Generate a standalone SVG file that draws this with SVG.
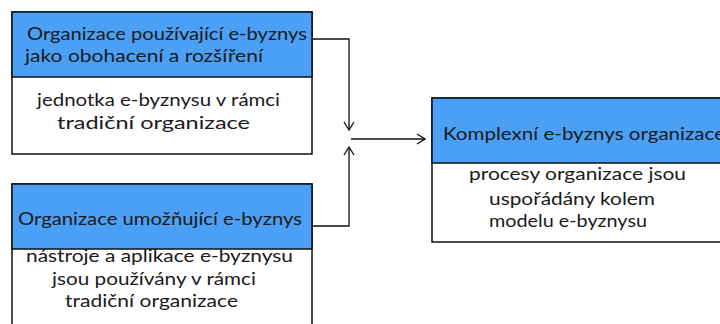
<svg xmlns="http://www.w3.org/2000/svg" width="720" height="324" viewBox="0 0 720 324">
<style>
.hdr{fill:#4b9ff4;stroke:#111;stroke-width:1.5}
.body{fill:#fff;stroke:#111;stroke-width:1.5}
text{font-family:Lato,"Open Sans","Liberation Sans",sans-serif;font-size:17px;fill:#1a1a1a}
.c{fill:none;stroke:#111;stroke-width:1.3}
</style>
<defs>
<marker id="ah" viewBox="0 0 10 12" refX="9" refY="6" markerWidth="10" markerHeight="12" markerUnits="userSpaceOnUse" orient="auto">
<path d="M1,1 L9,6 L1,11" fill="none" stroke="#111" stroke-width="1.3"/>
</marker>
</defs>
<rect width="720" height="324" fill="#fff"/>
<g id="node1">
<rect class="body" x="12" y="12" width="300" height="142"/>
<rect class="hdr" x="12" y="12" width="300" height="65"/>
<text x="27" y="40" textLength="280" lengthAdjust="spacingAndGlyphs">Organizace používající e-byznys</text>
<text x="25" y="62" textLength="238" lengthAdjust="spacingAndGlyphs">jako obohacení a rozšíření</text>
<text x="37" y="106" textLength="243" lengthAdjust="spacingAndGlyphs">jednotka e-byznysu v rámci</text>
<text x="57" y="129" textLength="193" lengthAdjust="spacingAndGlyphs">tradiční organizace</text>
</g>
<g id="node2">
<rect class="body" x="12" y="184" width="300" height="150"/>
<rect class="hdr" x="12" y="184" width="300" height="65"/>
<text x="18" y="225" textLength="284" lengthAdjust="spacingAndGlyphs">Organizace umožňující e-byznys</text>
<text x="26" y="262" textLength="267" lengthAdjust="spacingAndGlyphs">nástroje a aplikace e-byznysu</text>
<text x="52" y="285" textLength="204" lengthAdjust="spacingAndGlyphs">jsou používány v rámci</text>
<text x="65" y="307" textLength="173" lengthAdjust="spacingAndGlyphs">tradiční organizace</text>
</g>
<g id="node3">
<rect class="body" x="432" y="98" width="300" height="144"/>
<rect class="hdr" x="432" y="98" width="300" height="65"/>
<text x="443" y="140" textLength="282" lengthAdjust="spacingAndGlyphs">Komplexní e-byznys organizace</text>
<text x="469" y="180" textLength="217" lengthAdjust="spacingAndGlyphs">procesy organizace jsou</text>
<text x="489" y="205" textLength="166" lengthAdjust="spacingAndGlyphs">uspořádány kolem</text>
<text x="489" y="227" textLength="158" lengthAdjust="spacingAndGlyphs">modelu e-byznysu</text>
</g>
<g id="connectors">
<path class="c" d="M312,39 H349 V130" marker-end="url(#ah)"/>
<path class="c" d="M312,226 H349 V147" marker-end="url(#ah)"/>
<path class="c" d="M351,139 H425" marker-end="url(#ah)"/>
</g>
</svg>
